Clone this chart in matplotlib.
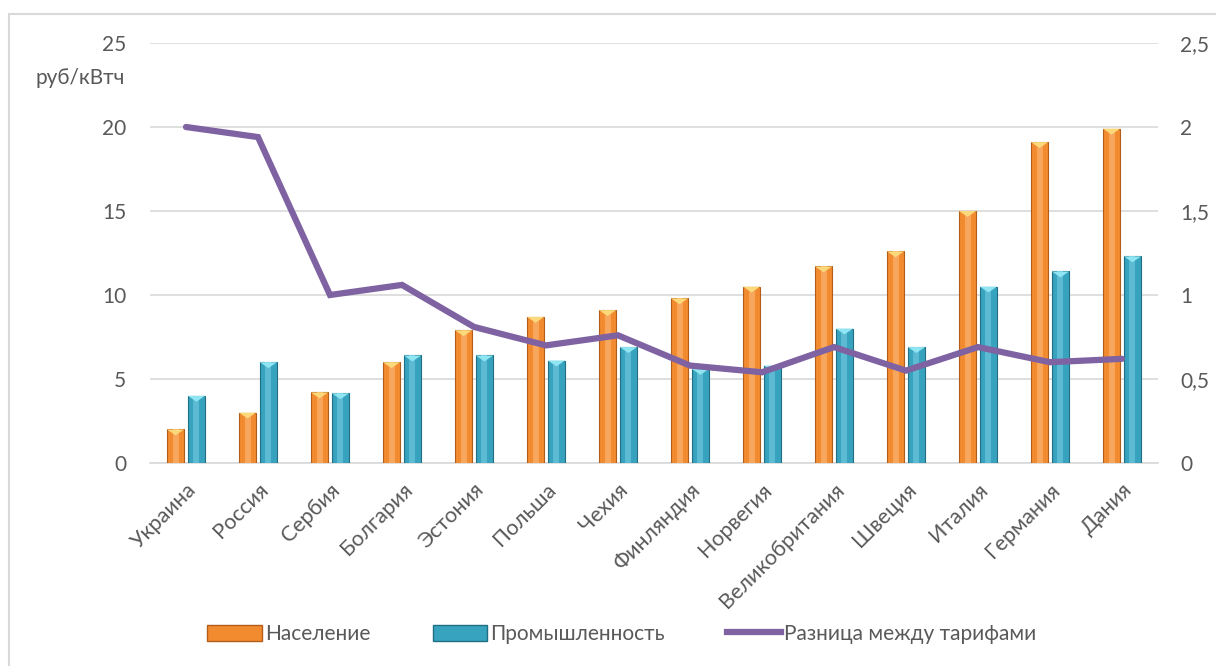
import numpy as np
import matplotlib
matplotlib.use("Agg")
import matplotlib.pyplot as plt
from matplotlib.patches import Rectangle
from matplotlib.lines import Line2D

plt.rcParams['font.family'] = ['Lato', 'DejaVu Sans']

# данные
countries = ['Украина', 'Россия', 'Сербия', 'Болгария', 'Эстония', 'Польша', 'Чехия',
             'Финляндия', 'Норвегия', 'Великобритания', 'Швеция', 'Италия', 'Германия', 'Дания']
population = [2.0, 3.0, 4.2, 6.0, 7.9, 8.7, 9.1, 9.8, 10.5, 11.7, 12.6, 15.0, 19.1, 19.9]
industry = [4.0, 6.0, 4.15, 6.4, 6.4, 6.1, 6.9, 5.6, 5.8, 8.0, 6.9, 10.5, 11.4, 12.3]
diff = [2.0, 1.94, 1.0, 1.06, 0.81, 0.70, 0.76, 0.58, 0.54, 0.69, 0.55, 0.69, 0.60, 0.62]

left_ticks = [0, 5, 10, 15, 20, 25]
right_ticks = [0, 0.5, 1, 1.5, 2, 2.5]
right_labels = ['0', '0,5', '1', '1,5', '2', '2,5']

txt = '#595959'
orange = '#F28B30'
orange_edge = '#B25E1A'
teal = '#38A3BE'
teal_edge = '#1F6F84'
purple = '#7E62A1'
fs = 15

fig = plt.figure(figsize=(12.16, 6.66), dpi=100)
ax = fig.add_axes([150 / 1216, 1 - 463 / 666, (1158 - 150) / 1216, (463 - 43) / 666])
ax2 = ax.twinx()

x = np.arange(len(countries))
w = 0.24
off = 0.145

ax.bar(x - off, population, w, color=orange, edgecolor=orange_edge, linewidth=0.8, zorder=3)
ax.bar(x + off, industry, w, color=teal, edgecolor=teal_edge, linewidth=0.8, zorder=3)
# светлая полоса для объёма
ax.bar(x - off, population, w * 0.35, color='#F7A65C', linewidth=0, zorder=3.5)
ax.bar(x + off, industry, w * 0.35, color='#5CBBD3', linewidth=0, zorder=3.5)
# треугольные блики сверху
for xi, v in zip(x, population):
    ax.fill([xi - off - w / 2, xi - off + w / 2, xi - off], [v, v, v - 0.35], color='#FBD97A', zorder=4, lw=0)
for xi, v in zip(x, industry):
    ax.fill([xi + off - w / 2, xi + off + w / 2, xi + off], [v, v, v - 0.35], color='#8FE6F2', zorder=4, lw=0)

ax2.plot(x, diff, color=purple, linewidth=4.5, solid_capstyle='round', solid_joinstyle='miter', zorder=5)

ax.set_xlim(-0.5, len(countries) - 0.5)
ax.set_ylim(0, 25)
ax2.set_ylim(0, 2.5)
ax.set_yticks(left_ticks)
ax2.set_yticks(right_ticks)
ax2.set_yticklabels(right_labels)
ax.yaxis.grid(True, color='#D9D9D9', linewidth=1.2, zorder=0)
ax.set_axisbelow(True)

for a in (ax, ax2):
    for s in a.spines.values():
        s.set_visible(False)
    a.tick_params(length=0, colors=txt, labelsize=fs)
ax.spines['bottom'].set_visible(True)
ax.spines['bottom'].set_color('#D9D9D9')
ax.spines['bottom'].set_linewidth(1.2)
ax.tick_params(axis='y', pad=17)
ax2.tick_params(axis='y', pad=16)

ax.set_xticks(x)
ax.set_xticklabels(countries, rotation=45, ha='right', rotation_mode='anchor', color=txt, fontsize=15.5)
ax.tick_params(axis='x', pad=12)

# линия поверх столбцов
ax2.set_zorder(ax.get_zorder() + 1)
ax2.patch.set_visible(False)

fig.text(80 / 1216, 1 - 78 / 666, 'руб/кВтч', ha='center', va='center', color=txt, fontsize=fs)

# рамка диаграммы
fig.patches.append(Rectangle((9 / 1216, -0.1), 1.2, 1 - 14 / 666 + 0.1, transform=fig.transFigure,
                             fill=False, edgecolor='#D9D9D9', linewidth=1.5))

handles = [Rectangle((0, 0), 1, 1, facecolor=orange, edgecolor=orange_edge),
           Rectangle((0, 0), 1, 1, facecolor=teal, edgecolor=teal_edge),
           Line2D([0], [0], color=purple, linewidth=4.5)]
fig.legend(handles, ['Население', 'Промышленность', 'Разница между тарифами'],
           loc='center', bbox_to_anchor=(622 / 1216, 1 - 634 / 666), ncol=3, frameon=False,
           fontsize=fs, labelcolor=txt, handlelength=2.6, handleheight=0.8,
           handletextpad=0.15, columnspacing=3.0)

fig.savefig('out.png', dpi=100, facecolor='white')
